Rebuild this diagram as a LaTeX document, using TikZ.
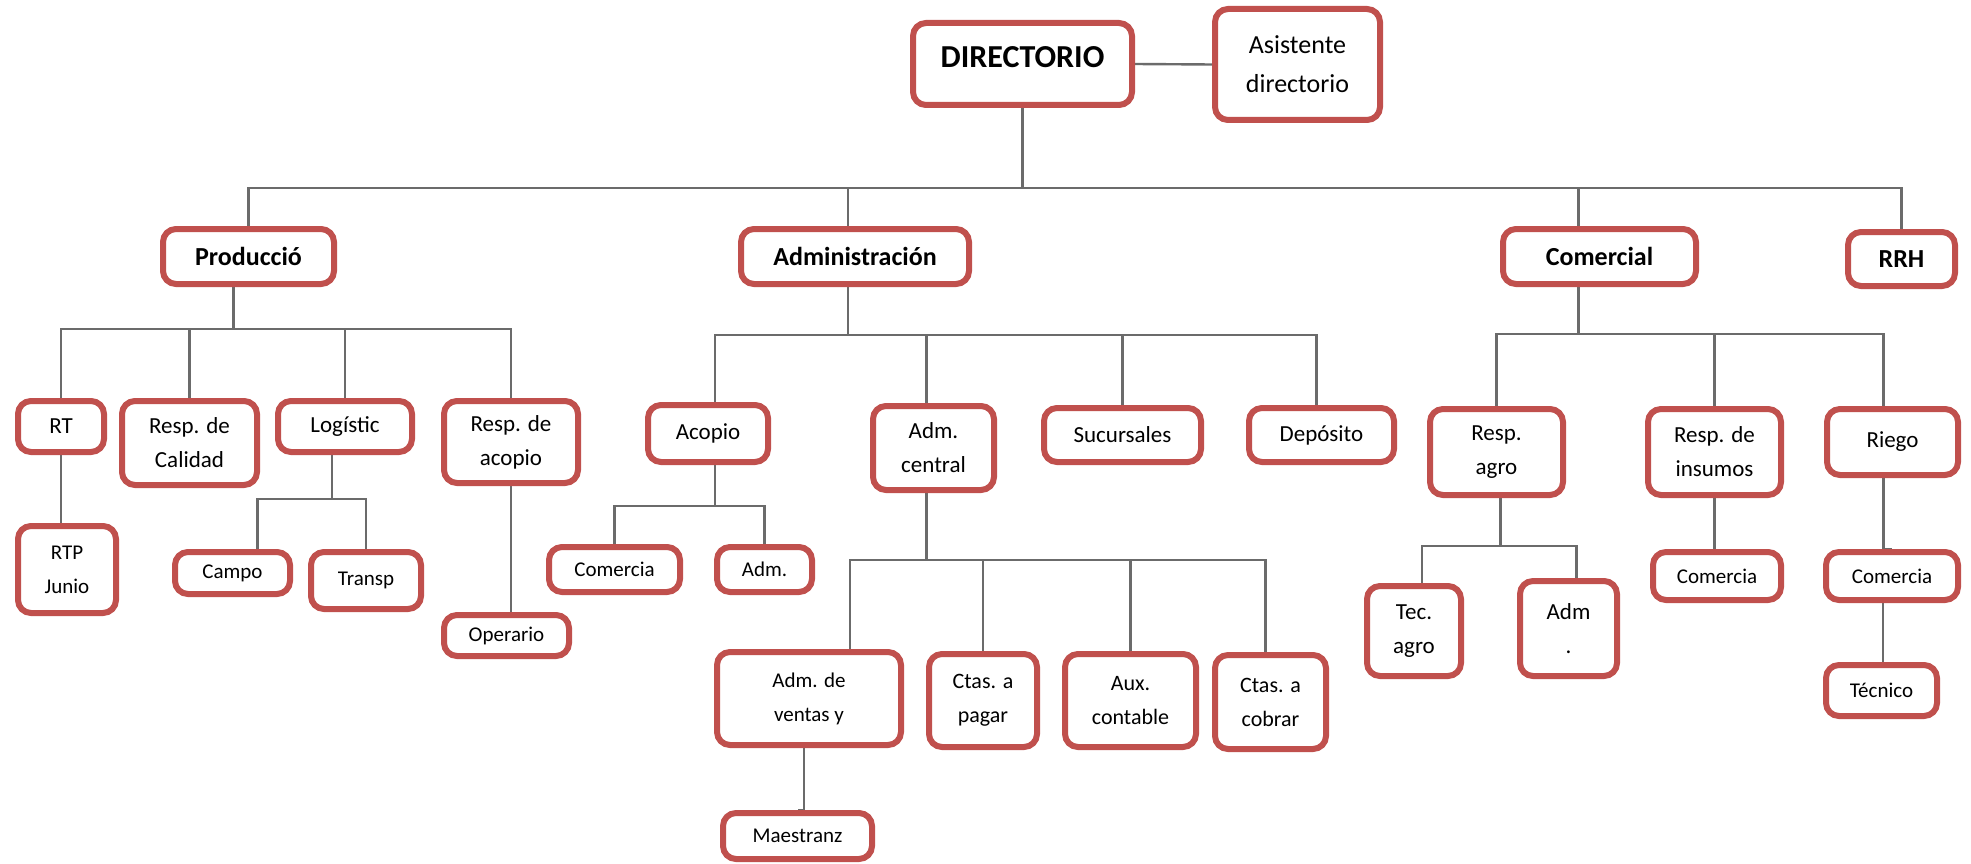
\documentclass[tikz,border=0pt]{standalone}
\usepackage{fontspec}
\setmainfont{Carlito}
\usetikzlibrary{backgrounds}
\definecolor{boxred}{HTML}{C0504D}
\definecolor{linegray}{HTML}{6B6B6B}
\begin{document}
\begin{tikzpicture}[x=1pt,y=-1pt,
    box/.style={draw=boxred, line width=6pt, rounded corners=13pt, fill=white,
        align=center, inner sep=0pt, font=\fontsize{23}{34}\selectfont},
    small/.style={font=\fontsize{21}{34}\selectfont},
    head/.style={font=\bfseries\fontsize{26}{32}\selectfont},
    conn/.style={draw=linegray, line width=2.4pt}]
    \useasboundingbox (0,0) rectangle (1971,864);

    % Top
    \node[box, font=\bfseries\fontsize{32}{38}\selectfont, text depth=13pt, minimum width=219pt, minimum height=82pt] (dir) at (1022.5,64) {DIRECTORIO};
    \node[box, font=\fontsize{26}{39}\selectfont, minimum width=165pt, minimum height=111pt] (asis) at (1297.5,64.5) {Asistente\\directorio};

    % Areas
    \node[box, head, minimum width=171pt, minimum height=55pt] (prod) at (248.5,256.5) {Producció};
    \node[box, head, minimum width=228pt, minimum height=55pt] (adm) at (855,256.5) {Administración};
    \node[box, head, minimum width=193pt, minimum height=55pt] (com) at (1599.5,256.5) {Comercial};
    \node[box, head, minimum width=107pt, minimum height=54pt] (rrh) at (1901.5,259) {RRH};

    % Produccion
    \node[box, minimum width=86pt, minimum height=51pt] (rt) at (61,426.5) {RT};
    \node[box, minimum width=135pt, minimum height=84pt] (cal) at (189.5,443) {Resp. de\\Calidad};
    \node[box, minimum width=134pt, minimum height=51pt] (log) at (345,426.5) {Logístic};
    \node[box, minimum width=134pt, minimum height=82pt] (racop) at (511,442) {Resp. de\\acopio};
    \node[box, small, minimum width=98pt, minimum height=87pt] (rtp) at (67,569.5) {RTP\\Junio};
    \node[box, small, minimum width=115pt, minimum height=42pt] (campo) at (232.5,573) {Campo};
    \node[box, small, minimum width=110pt, minimum height=57pt] (transp) at (366,580.5) {Transp};
    \node[box, small, minimum width=125pt, minimum height=41pt] (oper) at (506.5,635.5) {Operario};

    % Administracion
    \node[box, minimum width=120pt, minimum height=57pt] (aco) at (708,433.5) {Acopio};
    \node[box, minimum width=121pt, minimum height=84pt] (central) at (933.5,448) {Adm.\\central};
    \node[box, minimum width=157pt, minimum height=54pt] (suc) at (1122.5,435) {Sucursales};
    \node[box, minimum width=145pt, minimum height=54pt] (dep) at (1321.5,435) {Depósito};
    \node[box, small, minimum width=131pt, minimum height=45pt] (acocom) at (614.5,569.5) {Comercia};
    \node[box, small, minimum width=95pt, minimum height=45pt] (acoadm) at (764.5,569.5) {Adm.};
    \node[box, small, minimum width=184pt, minimum height=93pt] (ventas) at (809,698.5) {Adm. de\\ventas y};
    \node[box, font=\fontsize{22}{34}\selectfont, minimum width=108pt, minimum height=93pt] (pagar) at (983,700.5) {Ctas. a\\pagar};
    \node[box, font=\fontsize{22}{34}\selectfont, minimum width=131pt, minimum height=93pt] (aux) at (1130.5,700.5) {Aux.\\contable};
    \node[box, font=\fontsize{22}{34}\selectfont, minimum width=111pt, minimum height=94pt] (cobrar) at (1270.5,702) {Ctas. a\\cobrar};
    \node[box, small, minimum width=149pt, minimum height=46pt] (maest) at (797.5,836) {Maestranz};

    % Comercial
    \node[box, minimum width=133pt, minimum height=86pt] (ragro) at (1496.5,452) {Resp.\\agro};
    \node[box, minimum width=133pt, minimum height=86pt] (rins) at (1714.5,452) {Resp. de\\insumos};
    \node[box, minimum width=131pt, minimum height=66pt] (riego) at (1892.5,442) {Riego};
    \node[box, minimum width=94pt, minimum height=90pt] (tecagro) at (1414,631) {Tec.\\agro};
    \node[box, minimum width=97pt, minimum height=95pt] (agroadm) at (1568.5,628.5) {Adm\\.};
    \node[box, small, minimum width=128pt, minimum height=48pt] (inscom) at (1717,576) {Comercia};
    \node[box, small, minimum width=132pt, minimum height=48pt] (riecom) at (1892,576) {Comercia};
    \node[box, small, minimum width=111pt, minimum height=51pt] (tecnico) at (1881.5,690.5) {Técnico};

    \begin{pgfonlayer}{background}
    % Lines from the top
    \draw[conn] (dir.east) -- (asis.west);
    \draw[conn] (dir.south) -- ++(0,80) coordinate (b0);
    \draw[conn] (prod.north) |- (b0);
    \draw[conn] ([xshift=-7pt]adm.north) |- (b0);
    \draw[conn] ([xshift=-21pt]com.north) |- (b0);
    \draw[conn] (rrh.north) |- (b0);

    % Produccion lines
    \draw[conn] ([xshift=-15pt]prod.south) -- ++(0,42) coordinate (b1);
    \draw[conn] (rt.north) |- (b1);
    \draw[conn] (cal.north) |- (b1);
    \draw[conn] (log.north) |- (b1);
    \draw[conn] (racop.north) |- (b1);
    \draw[conn] (rt.south) -- (rt.south |- rtp.north);
    \draw[conn] ([xshift=-13pt]log.south) -- ++(0,44) coordinate (b2);
    \draw[conn] ([xshift=25pt]campo.north) |- (b2);
    \draw[conn] (transp.north) |- (b2);
    \draw[conn] (racop.south) -- (racop.south |- oper.north);

    % Administracion lines
    \draw[conn] ([xshift=-7pt]adm.south) -- ++(0,48) coordinate (b3);
    \draw[conn] ([xshift=7pt]aco.north) |- (b3);
    \draw[conn] ([xshift=-7pt]central.north) |- (b3);
    \draw[conn] (suc.north) |- (b3);
    \draw[conn] ([xshift=-5pt]dep.north) |- (b3);
    \draw[conn] ([xshift=7pt]aco.south) -- ++(0,41) coordinate (b4);
    \draw[conn] (acocom.north) |- (b4);
    \draw[conn] (acoadm.north) |- (b4);
    \draw[conn] ([xshift=-7pt]central.south) -- ++(0,67) coordinate (b5);
    \draw[conn] ([xshift=41pt]ventas.north) |- (b5);
    \draw[conn] (pagar.north) |- (b5);
    \draw[conn] (aux.north) |- (b5);
    \draw[conn] ([xshift=-5pt]cobrar.north) |- (b5);
    \draw[conn] ([xshift=-5pt]ventas.south) |- (maest.north);

    % Comercial lines
    \draw[conn] ([xshift=-21pt]com.south) -- ++(0,47) coordinate (b6);
    \draw[conn] (ragro.north) |- (b6);
    \draw[conn] (rins.north) |- (b6);
    \draw[conn] ([xshift=-9pt]riego.north) |- (b6);
    \draw[conn] ([xshift=4pt]ragro.south) -- ++(0,48) coordinate (b7);
    \draw[conn] ([xshift=8pt]tecagro.north) |- (b7);
    \draw[conn] ([xshift=8pt]agroadm.north) |- (b7);
    \draw[conn] (rins.south) -- (rins.south |- inscom.north);
    \draw[conn] ([xshift=-9pt]riego.south) |- (riecom.north);
    \draw[conn] ([xshift=-9pt]riecom.south) |- (tecnico.north);
    \end{pgfonlayer}
\end{tikzpicture}
\end{document}
